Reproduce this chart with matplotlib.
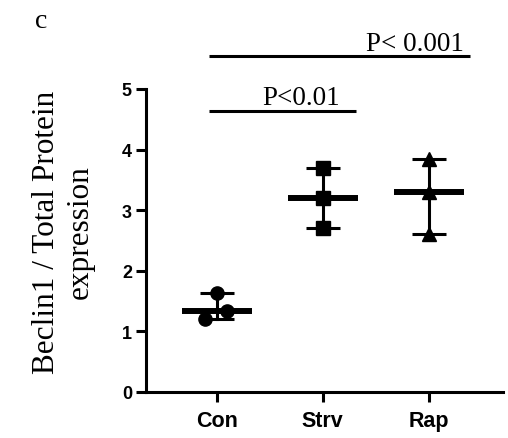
import matplotlib.pyplot as plt
import numpy as np

# Data
groups = ["Con", "Strv", "Rap"]
con = [1.63, 1.20, 1.34]
strv = [3.70, 3.20, 2.70]
rap = [3.85, 3.30, 2.60]
markers = ["o", "s", "^"]
jitter = [[0.0, -0.11, 0.10], [0, 0, 0], [0, 0, 0]]

# Significance bars: (x start, x end, y, label, label x)
bars = [(-0.075, 1.31, 4.64, "P<0.01", 0.80),
        (-0.07, 2.39, 5.54, "P< 0.001", 1.87)]

fig = plt.figure(figsize=(5.08, 4.39), dpi=100)
ax = fig.add_axes([0.287, 0.105, 0.703, 0.69])

for i, (vals, m) in enumerate(zip([con, strv, rap], markers)):
    vals = np.array(vals)
    ax.plot(i + np.array(jitter[i]), vals, m, color="black", markersize=9.5, zorder=3,
            clip_on=False)
    med = np.median(vals)
    lo, hi = vals.min(), vals.max()
    ax.plot([i - 0.33, i + 0.33], [med, med], color="black", lw=4.3, solid_capstyle="butt", zorder=4)
    ax.plot([i, i], [lo, hi], color="black", lw=2.2, zorder=2)
    for y in (lo, hi):
        ax.plot([i - 0.16, i + 0.16], [y, y], color="black", lw=2.2, solid_capstyle="butt", zorder=2)

for x0, x1, y, txt, tx in bars:
    ax.plot([x0, x1], [y, y], color="black", lw=2.2, clip_on=False, solid_capstyle="butt")
    ax.text(tx, y + 0.11, txt, ha="center", va="baseline", fontsize=19.5,
            family="Liberation Serif", clip_on=False)

ax.set_xlim(-0.67, 2.7)
ax.set_ylim(0, 5)
ax.set_xticks(range(len(groups)))
ax.set_xticklabels(groups, fontsize=15.5, fontweight="bold", family="Liberation Sans")
ax.set_yticks(range(6))
ax.set_yticklabels([str(v) for v in range(6)], fontsize=13, fontweight="bold",
                   family="Liberation Sans")
ax.tick_params(width=2.2, length=7, direction="out")
ax.tick_params(axis="x", pad=6)
ax.tick_params(axis="y", pad=3)

for s in ["top", "right"]:
    ax.spines[s].set_visible(False)
for s in ["left", "bottom"]:
    ax.spines[s].set_linewidth(2.2)

ax.set_ylabel("Beclin1 / Total Protein\nexpression", fontsize=22.5, family="Liberation Serif",
              linespacing=1.22, va="center")
ax.yaxis.set_label_coords(-0.232, 0.53)

fig.text(0.069, 0.95, "c", fontsize=20, family="Liberation Serif", ha="left", va="center")

fig.savefig("out.png", dpi=100)
